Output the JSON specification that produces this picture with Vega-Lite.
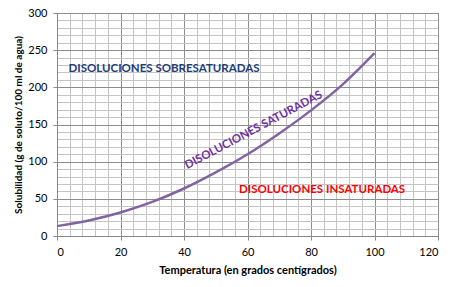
{
  "$schema": "https://vega.github.io/schema/vega-lite/v6.json",
  "autosize": {"type": "none"},
  "width": 381,
  "height": 223,
  "padding": {"left": 57, "top": 13, "right": 22, "bottom": 51},
  "background": "white",
  "config": {
    "font": "Lato",
    "view": {"stroke": "#888888", "strokeWidth": 1}
  },
  "datasets": {
    "curve": [
      {"t": 0, "s": 13.3},
      {"t": 10, "s": 20.9},
      {"t": 20, "s": 31.6},
      {"t": 30, "s": 45.8},
      {"t": 40, "s": 63.9},
      {"t": 50, "s": 85.5},
      {"t": 60, "s": 110},
      {"t": 70, "s": 138},
      {"t": 80, "s": 169},
      {"t": 90, "s": 204},
      {"t": 100, "s": 246}
    ],
    "labels": [
      {"t": 33.7, "s": 225, "text": "DISOLUCIONES SOBRESATURADAS", "kind": "sobre"},
      {"t": 62, "s": 142, "text": "DISOLUCIONES SATURADAS", "kind": "sat"},
      {"t": 83.5, "s": 61.5, "text": "DISOLUCIONES INSATURADAS", "kind": "insat"}
    ]
  },
  "layer": [
    {
      "data": {"name": "curve"},
      "mark": {"type": "line", "interpolate": "monotone", "color": "#8064A2", "strokeWidth": 2.5},
      "encoding": {
        "x": {
          "field": "t", "type": "quantitative",
          "scale": {"domain": [0, 120], "nice": false},
          "axis": {
            "title": "Temperatura (en grados  centígrados)",
            "titleFontSize": 11, "titleFontWeight": "bold", "titleColor": "#000000", "titlePadding": 7,
            "values": [0,4,8,12,16,20,24,28,32,36,40,44,48,52,56,60,64,68,72,76,80,84,88,92,96,100,104,108,112,116,120],
            "tickCount": 200,
            "labelExpr": "datum.value % 20 === 0 ? format(datum.value, 'd') : ''",
            "labelOverlap": false,
            "labelFontSize": 11, "labelColor": "#000000", "labelPadding": 6,
            "domainColor": "#888888",
            "tickSize": 4,
            "tickColor": {"condition": {"test": "datum.value % 20 === 0", "value": "#888888"}, "value": "transparent"},
            "grid": true,
            "gridColor": {"condition": {"test": "datum.value % 20 === 0", "value": "#8c8c8c"}, "value": "#c4c4c4"},
            "gridOpacity": 1
          }
        },
        "y": {
          "field": "s", "type": "quantitative",
          "scale": {"domain": [0, 300], "nice": false},
          "axis": {
            "title": "Solubilidad  (g de soluto/100 ml de agua)",
            "titleFontSize": 10, "titleFontWeight": "bold", "titleColor": "#000000", "titlePadding": 4,
            "values": [0,10,20,30,40,50,60,70,80,90,100,110,120,130,140,150,160,170,180,190,200,210,220,230,240,250,260,270,280,290,300],
            "tickCount": 200,
            "labelExpr": "datum.value % 50 === 0 ? format(datum.value, 'd') : ''",
            "labelOverlap": false,
            "labelFontSize": 11, "labelColor": "#000000", "labelPadding": 6,
            "domainColor": "#888888",
            "tickSize": 4,
            "tickColor": {"condition": {"test": "datum.value % 50 === 0", "value": "#888888"}, "value": "transparent"},
            "grid": true,
            "gridColor": {"condition": {"test": "datum.value % 50 === 0", "value": "#8c8c8c"}, "value": "#c4c4c4"},
            "gridOpacity": 1
          }
        }
      }
    },
    {
      "data": {"name": "labels"},
      "transform": [{"filter": "datum.kind !== 'sat'"}],
      "mark": {"type": "text", "fontWeight": "bold", "fontSize": 11.5},
      "encoding": {
        "x": {"field": "t", "type": "quantitative"},
        "y": {"field": "s", "type": "quantitative"},
        "text": {"field": "text"},
        "color": {
          "field": "kind", "type": "nominal",
          "scale": {"domain": ["sobre", "sat", "insat"], "range": ["#1F3D7A", "#7030A0", "#FF0000"]},
          "legend": null
        }
      }
    },
    {
      "data": {"name": "labels"},
      "transform": [{"filter": "datum.kind === 'sat'"}],
      "mark": {"type": "text", "fontWeight": "bold", "fontSize": 11.5, "angle": -28},
      "encoding": {
        "x": {"field": "t", "type": "quantitative"},
        "y": {"field": "s", "type": "quantitative"},
        "text": {"field": "text"},
        "color": {
          "field": "kind", "type": "nominal",
          "scale": {"domain": ["sobre", "sat", "insat"], "range": ["#1F3D7A", "#7030A0", "#FF0000"]},
          "legend": null
        }
      }
    }
  ]
}
